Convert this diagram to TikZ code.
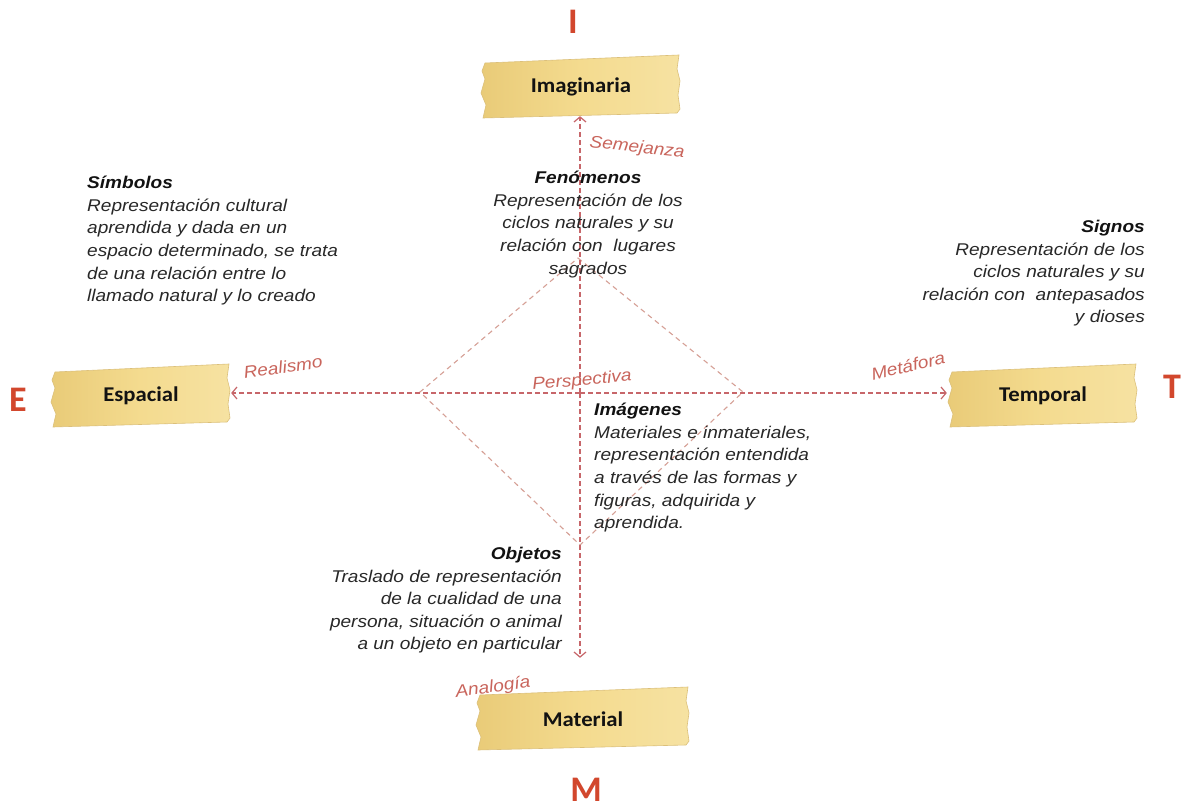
\documentclass[tikz,border=0pt]{standalone}
\usepackage{fontspec}
\setmainfont{Liberation Sans}
\newfontfamily\bodyfont{Liberation Sans}[FakeStretch=1.12]
\newfontfamily\tapefont{Carlito}[FakeStretch=1.08]
\newfontfamily\letterfont{Carlito}
\usetikzlibrary{arrows.meta,backgrounds}

\definecolor{axisc}{HTML}{C7666A}
\definecolor{diamc}{HTML}{D6A096}
\definecolor{lblc}{HTML}{C9655C}
\definecolor{letterc}{HTML}{D2472D}
\definecolor{bodyc}{HTML}{282828}
\definecolor{titlec}{HTML}{121212}
\definecolor{tapeL}{HTML}{E9CB78}
\definecolor{tapeM}{HTML}{F4DB8F}
\definecolor{tapeR}{HTML}{F6E2A2}
\definecolor{tapeEdge}{HTML}{DCC07A}

\tikzset{
  tapebox/.style={minimum height=58pt, inner sep=0pt, text=titlec,
    font={\tapefont\bfseries\fontsize{21}{25}\selectfont}},
  tapefill/.style={left color=tapeL, right color=tapeR, middle color=tapeM,
    draw=tapeEdge, line width=0.6pt},
  body/.style={inner sep=0pt, text=bodyc,
    font={\bodyfont\itshape\fontsize{17}{22.6}\selectfont}},
  lbl/.style={inner sep=0pt, text=lblc,
    font={\bodyfont\itshape\fontsize{17}{20}\selectfont}},
  axisline/.style={draw=axisc, line width=1.2pt, dash pattern=on 5pt off 3pt,
    -{Straight Barb[length=5pt,width=12pt,line width=1.2pt]}},
  diamline/.style={draw=diamc, line width=1.1pt, dash pattern=on 5pt off 4pt},
  letter/.style={inner sep=0pt, text=letterc,
    font={\letterfont\bfseries\fontsize{36}{40}\selectfont}},
}

% a strip of tape behind a label: name, centre, half width, text
\newcommand\tapestrip[4]{%
  \node[tapebox, minimum width=2*#3 pt] (#1) at (#2) {#4};
  \begin{scope}[on background layer, shift={(#1.center)}]
    \path[tapefill]
      (-#3+2,-24) -- (#3,-32) -- (#3-2,-18) -- (#3+1,-6) -- (#3-1,8)
      -- (#3+1,22) -- (#3-2,26) -- (-#3,31) -- (-#3+3,18) -- (-#3-2,6)
      -- (-#3+2,-8) -- (-#3-1,-16) -- cycle;
  \end{scope}}

\begin{document}
\begin{tikzpicture}[x=1pt, y=-1pt]
\useasboundingbox (0,0) rectangle (1186,810);
\begin{scope}[on background layer]
  \fill[white] (0,0) rectangle (1186,810);
\end{scope}

% tapes with the four dimensions
\tapestrip{imag}{581,87}{98}{Imaginaria}
\tapestrip{esp}{141,396}{88}{Espacial}
\tapestrip{temp}{1043,396}{93}{Temporal}
\tapestrip{mat}{583,719}{105}{Material}

% initials of the dimensions
\node[letter] (lI) at (573,22) {I};
\node[letter] (lE) at (18,400) {E};
\node[letter] (lT) at (1172,387) {T};
\node[letter] (lM) at (586,790) {M};

% inner diamond
\coordinate (dT) at (578,258);
\coordinate (dR) at (743,392);
\coordinate (dB) at (580,545);
\coordinate (dL) at (420,392);
\draw[diamline] (dT) -- (dR) -- (dB) -- (dL) -- cycle;

% axes
\coordinate (O) at (580,393);
\draw[axisline] (O) -- (O |- imag.south);
\draw[axisline, shorten >=32pt] (O) -- (O |- mat.north);
\draw[axisline, shorten >=2pt] (O) -- (O -| esp.east);
\draw[axisline, shorten >=3pt] (O) -- (O -| temp.west);

% axis labels
\node[lbl, rotate=-6] (semej) at (637,148) {Semejanza};
\node[lbl, rotate=8] (real) at (283,367) {Realismo};
\node[lbl, rotate=5] (persp) at (582,381) {Perspectiva};
\node[lbl, rotate=13] (metaf) at (908,366) {Metáfora};
\node[lbl, rotate=8] (analog) at (493,688) {Analogía};

% descriptions
\node[body, anchor=north west, align=left] (simb) at (87,176)
  {{\color{titlec}\bfseries Símbolos}\\Representación cultural\\aprendida y dada en un\\
   espacio determinado, se trata\\de una relación entre lo\\llamado natural y lo creado};
\node[body, anchor=north, align=center] (fen) at (588,171)
  {{\color{titlec}\bfseries Fenómenos}\\Representación de los\\ciclos naturales y su\\
   relación con~ lugares\\sagrados};
\node[body, anchor=north east, align=right] (sig) at (1145,220)
  {{\color{titlec}\bfseries Signos}\\Representación de los\\ciclos naturales y su\\
   relación con~ antepasados\\y dioses};
\node[body, anchor=north west, align=left] (imgs) at (594,403)
  {{\color{titlec}\bfseries Imágenes}\\Materiales e inmateriales,\\representación entendida\\
   a través de las formas y\\figuras, adquirida y\\aprendida.};
\node[body, anchor=north east, align=right] (obj) at (562,547)
  {{\color{titlec}\bfseries Objetos}\\Traslado de representación\\de la cualidad de una\\
   persona, situación o animal\\a un objeto en particular};
\end{tikzpicture}
\end{document}
